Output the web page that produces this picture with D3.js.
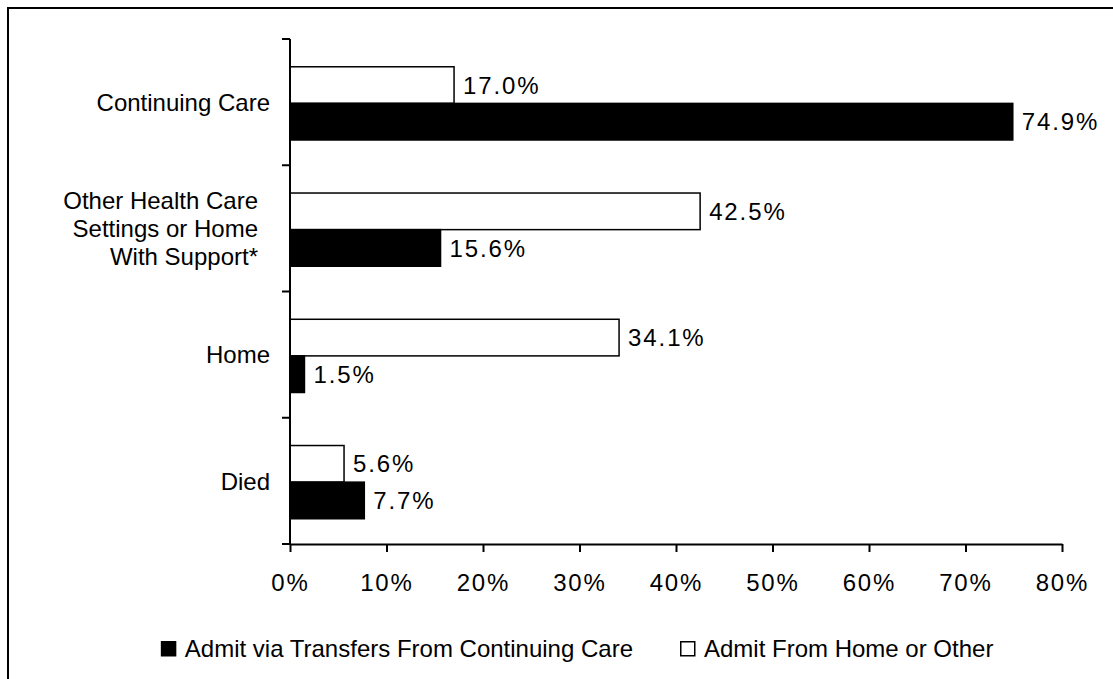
<!DOCTYPE html>
<html>
<head>
<meta charset="utf-8">
<script src="https://cdn.jsdelivr.net/npm/d3@7"></script>
<style>
  body { margin: 0; background: #fff; }
  text { font-family: "Liberation Sans", Arial, sans-serif; fill: #000; }
  .num { letter-spacing: 1.9px; }
</style>
</head>
<body>
<div id="chart"></div>
<script>
// categories, top to bottom
const categories = [
  "Continuing Care",
  "Other Health Care|Settings or Home|With Support*",
  "Home",
  "Died",
];
const seriesNames = [
  "Admit From Home or Other",
  "Admit via Transfers From Continuing Care",
];
const fromHome = [17.0, 42.5, 34.1, 5.6];
const viaTransfer = [74.9, 15.6, 1.5, 7.7];
const xTicks = [0, 10, 20, 30, 40, 50, 60, 70, 80];

const width = 1113,
  height = 679;
const margin = { top: 39, left: 290, right: 51, bottom: 135 };
const fontSize = "24px";

const svg = d3
  .select("#chart")
  .append("svg")
  .attr("width", width)
  .attr("height", height);

// outer frame (runs off the right and bottom edges)
svg
  .append("rect")
  .attr("x", 8)
  .attr("y", 8)
  .attr("width", width + 20)
  .attr("height", height + 20)
  .attr("fill", "none")
  .attr("stroke", "#000")
  .attr("stroke-width", 2);

const xScale = d3
  .scaleLinear()
  .domain([0, 80])
  .range([margin.left, width - margin.right]);

const yScale = d3
  .scaleBand()
  .domain(categories)
  .range([margin.top, height - margin.bottom]);

const innerScale = d3
  .scaleBand()
  .domain(seriesNames)
  .range([yScale.bandwidth() * 0.22, yScale.bandwidth() * 0.8]);

const rows = categories.map((c, i) => ({
  cat: c,
  values: [
    { series: seriesNames[0], value: fromHome[i] },
    { series: seriesNames[1], value: viaTransfer[i] },
  ],
}));

// bars
const groups = svg
  .selectAll(".row")
  .data(rows)
  .join("g")
  .attr("class", "row")
  .attr("transform", (d) => `translate(0, ${yScale(d.cat)})`);

groups
  .selectAll("rect")
  .data((d) => d.values)
  .join("rect")
  .attr("x", xScale(0))
  .attr("y", (d) => innerScale(d.series))
  .attr("width", (d) => xScale(d.value) - xScale(0))
  .attr("height", innerScale.bandwidth())
  .attr("fill", (d) => (d.series === seriesNames[1] ? "#000" : "#fff"))
  .attr("stroke", "#000")
  .attr("stroke-width", 1.5);

groups
  .selectAll(".val")
  .data((d) => d.values)
  .join("text")
  .attr("class", "val num")
  .attr("x", (d) => xScale(d.value) + 9)
  .attr("y", (d) => innerScale(d.series) + innerScale.bandwidth() / 2)
  .attr("dy", "0.36em")
  .style("font-size", fontSize)
  .text((d) => d.value.toFixed(1) + "%");

// x axis
const xAxis = d3
  .axisBottom(xScale)
  .tickValues(xTicks)
  .tickFormat((d) => d + "%")
  .tickSize(8)
  .tickSizeOuter(0)
  .tickPadding(22);

const gx = svg
  .append("g")
  .attr("transform", `translate(0, ${height - margin.bottom})`)
  .call(xAxis);
gx.select(".domain").attr("stroke-width", 2);
gx.selectAll(".tick line").attr("stroke-width", 2);
gx.selectAll("text")
  .attr("class", "num")
  .style("font-size", fontSize)
  .style("font-family", '"Liberation Sans", Arial, sans-serif');

// y axis: ticks sit between categories
const yAxisLine = svg.append("g");
yAxisLine
  .append("line")
  .attr("x1", xScale(0))
  .attr("x2", xScale(0))
  .attr("y1", yScale.range()[0])
  .attr("y2", yScale.range()[1])
  .attr("stroke", "#000")
  .attr("stroke-width", 2);

const boundaries = categories.map((c) => yScale(c)).concat(yScale.range()[1]);
yAxisLine
  .selectAll(".ytick")
  .data(boundaries)
  .join("line")
  .attr("x1", xScale(0) - 8)
  .attr("x2", xScale(0))
  .attr("y1", (d) => d)
  .attr("y2", (d) => d)
  .attr("stroke", "#000")
  .attr("stroke-width", 2);

// category labels, wrapped ones split on "|"
const lineHeight = 28;
svg
  .selectAll(".cat")
  .data(categories)
  .join("text")
  .attr("class", "cat")
  .style("font-size", fontSize)
  .attr("text-anchor", "end")
  .each(function (d) {
    const lines = d.split("|");
    const cy = yScale(d) + yScale.bandwidth() / 2;
    const x = lines.length > 1 ? 258 : 270;
    d3.select(this)
      .selectAll("tspan")
      .data(lines)
      .join("tspan")
      .attr("x", x)
      .attr("y", (l, i) => cy + (i - (lines.length - 1) / 2) * lineHeight)
      .attr("dy", "0.36em")
      .text((l) => l);
  });

// legend: second item's box at x=680, first item's text ends 47px before it
const legendItems = [
  { name: seriesNames[1], fill: "#000" },
  { name: seriesNames[0], fill: "#fff" },
];
const legend = svg
  .selectAll(".legend")
  .data(legendItems)
  .join("g")
  .attr("class", "legend");

legend
  .append("rect")
  .attr("width", 14)
  .attr("height", 14)
  .attr("x", 0.75)
  .attr("y", 0.75)
  .attr("fill", (d) => d.fill)
  .attr("stroke", "#000")
  .attr("stroke-width", 1.5);

legend
  .append("text")
  .attr("x", 24)
  .attr("y", 16)
  .style("font-size", fontSize)
  .text((d) => d.name);

const firstWidth = legend.select("text").node().getComputedTextLength();
legend.attr("transform", (d, i) =>
  i === 0
    ? `translate(${633 - firstWidth - 24}, 641)`
    : `translate(680, 641)`
);
</script>
</body>
</html>
